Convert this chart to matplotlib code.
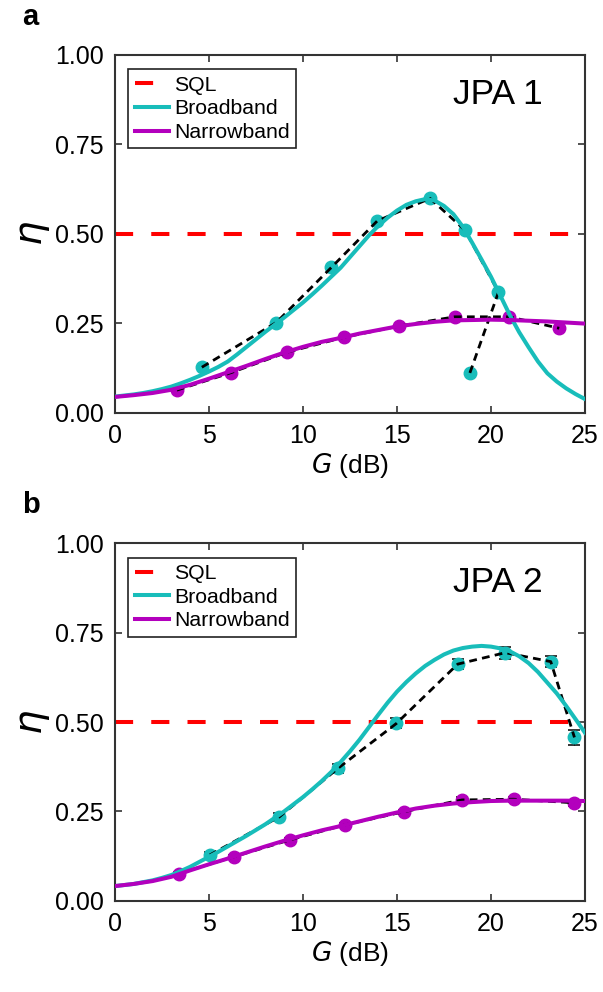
import matplotlib
matplotlib.use("Agg")
import matplotlib.pyplot as plt
import numpy as np

plt.rcParams["font.family"] = ["Liberation Sans", "DejaVu Sans"]
plt.rcParams["mathtext.fontset"] = "dejavusans"

CYAN = "#18BDBA"
MAGENTA = "#B300BD"
RED = "#FF0000"

# ---- JPA 1 (panel a) ----
a_bb_g = [4.62, 8.58, 11.51, 13.95, 16.76, 18.62, 20.40, 18.87]
a_bb_eta = [0.127, 0.252, 0.406, 0.536, 0.599, 0.510, 0.337, 0.110]
a_nb_g = [3.29, 6.18, 9.15, 12.20, 15.10, 18.07, 20.97, 23.63]
a_nb_eta = [0.063, 0.112, 0.169, 0.211, 0.242, 0.268, 0.268, 0.236]

# fit curves
bb_fit_g = [i * 0.5 for i in range(51)]
nb_fit_g = list(range(0, 26))

a_bb_fit = [0.045, 0.048, 0.051, 0.055, 0.060, 0.066, 0.073, 0.082, 0.092, 0.103,
            0.115, 0.128, 0.143, 0.163, 0.184, 0.205, 0.226, 0.246, 0.266, 0.287,
            0.308, 0.331, 0.355, 0.380, 0.405, 0.435, 0.465, 0.495, 0.522, 0.545,
            0.565, 0.581, 0.591, 0.597, 0.593, 0.578, 0.555, 0.520, 0.475, 0.428,
            0.380, 0.327, 0.273, 0.225, 0.183, 0.143, 0.110, 0.087, 0.068, 0.052,
            0.038]
a_nb_fit = [0.044, 0.049, 0.055, 0.064, 0.078, 0.095, 0.113, 0.131, 0.150, 0.168,
            0.184, 0.198, 0.209, 0.221, 0.231, 0.241, 0.248, 0.254, 0.258, 0.259,
            0.260, 0.259, 0.257, 0.255, 0.252, 0.249]

# ---- JPA 2 (panel b) ----
b_bb_g = [5.04, 8.75, 11.85, 14.97, 18.23, 20.76, 23.18, 24.44]
b_bb_eta = [0.128, 0.235, 0.370, 0.496, 0.662, 0.694, 0.669, 0.457]
b_bb_err = [0.008, 0.010, 0.012, 0.014, 0.014, 0.017, 0.016, 0.021]
b_nb_g = [3.41, 6.33, 9.29, 12.21, 15.36, 18.46, 21.20, 24.42]
b_nb_eta = [0.076, 0.123, 0.170, 0.212, 0.249, 0.282, 0.284, 0.274]
b_nb_err = [0.004, 0.005, 0.005, 0.006, 0.006, 0.007, 0.007, 0.008]

b_bb_fit = [0.041, 0.044, 0.047, 0.052, 0.057, 0.064, 0.072, 0.083, 0.095, 0.109,
            0.123, 0.137, 0.152, 0.167, 0.182, 0.198, 0.214, 0.232, 0.250, 0.270,
            0.290, 0.312, 0.335, 0.360, 0.388, 0.418, 0.450, 0.485, 0.520, 0.554,
            0.585, 0.612, 0.636, 0.657, 0.674, 0.689, 0.700, 0.707, 0.711, 0.713,
            0.711, 0.706, 0.698, 0.684, 0.665, 0.640, 0.610, 0.580, 0.545, 0.508,
            0.470]
b_nb_fit = [0.041, 0.047, 0.055, 0.067, 0.085, 0.102, 0.118, 0.135, 0.152, 0.168,
            0.183, 0.197, 0.209, 0.222, 0.235, 0.247, 0.258, 0.266, 0.272, 0.276,
            0.279, 0.280, 0.280, 0.280, 0.280, 0.279]

SQL = 0.5


def draw_panel(ax, bb_g, bb_eta, nb_g, nb_eta, bb_fit, nb_fit, title,
               bb_err=None, nb_err=None):
    sql_line, = ax.plot([0, 25], [SQL, SQL], color=RED, lw=2.9,
                        dashes=(4.5, 4.5), zorder=2, label="SQL")

    for g, eta, err, col in [(bb_g, bb_eta, bb_err, CYAN),
                             (nb_g, nb_eta, nb_err, MAGENTA)]:
        if err is not None:
            ax.errorbar(g, eta, yerr=err, fmt="none", ecolor="black",
                        elinewidth=0.9, capsize=4, capthick=1.1, zorder=2.5)
        ax.plot(g, eta, "o", color=col, ms=9, mec=col, zorder=3)
        ax.plot(g, eta, color="black", lw=2.0, dashes=(2.8, 1.9), zorder=4)

    bb_line, = ax.plot(bb_fit_g, bb_fit, color=CYAN, lw=2.9, zorder=5,
                       solid_joinstyle="round", label="Broadband")
    nb_line, = ax.plot(nb_fit_g, nb_fit, color=MAGENTA, lw=2.9, zorder=5,
                       solid_joinstyle="round", label="Narrowband")

    ax.set_xlim(0, 25)
    ax.set_ylim(0, 1)
    ax.set_xticks(np.arange(0, 26, 5))
    ax.set_yticks([0, 0.25, 0.5, 0.75, 1.0])
    ax.set_yticklabels(["0.00", "0.25", "0.50", "0.75", "1.00"])
    ax.tick_params(direction="in", top=True, right=True, length=5, width=1.2,
                   labelsize=18, color="#333333", pad=8)
    for sp in ax.spines.values():
        sp.set_linewidth(1.5)
        sp.set_color("#333333")

    ax.set_xlabel(r"$\it{G}$ (dB)", fontsize=19, labelpad=2)
    ax.set_ylabel(r"$\eta$", fontsize=28, labelpad=2)

    leg = ax.legend(handles=[sql_line, bb_line, nb_line], loc="upper left",
                    bbox_to_anchor=(0.028, 0.96), fontsize=15.3, frameon=True,
                    fancybox=False, edgecolor="#222222", framealpha=1,
                    handlelength=1.6, handletextpad=0.25, borderpad=0.3,
                    labelspacing=0.22, borderaxespad=0)
    leg.get_frame().set_linewidth(1.2)

    ax.text(0.72, 0.89, title, transform=ax.transAxes, fontsize=25.5,
            va="center", ha="left")


fig = plt.figure(figsize=(6.03, 9.92), dpi=100)
ax_a = fig.add_axes([0.1907, 0.584, 0.7794, 0.3606])
ax_b = fig.add_axes([0.1907, 0.092, 0.7794, 0.3603])

draw_panel(ax_a, a_bb_g, a_bb_eta, a_nb_g, a_nb_eta, a_bb_fit, a_nb_fit, "JPA 1")
draw_panel(ax_b, b_bb_g, b_bb_eta, b_nb_g, b_nb_eta, b_bb_fit, b_nb_fit, "JPA 2",
           bb_err=b_bb_err, nb_err=b_nb_err)

fig.text(0.036, 0.983, "a", fontsize=21, fontweight="bold", va="center")
fig.text(0.036, 0.491, "b", fontsize=21, fontweight="bold", va="center")

fig.savefig("out.png", dpi=100)
